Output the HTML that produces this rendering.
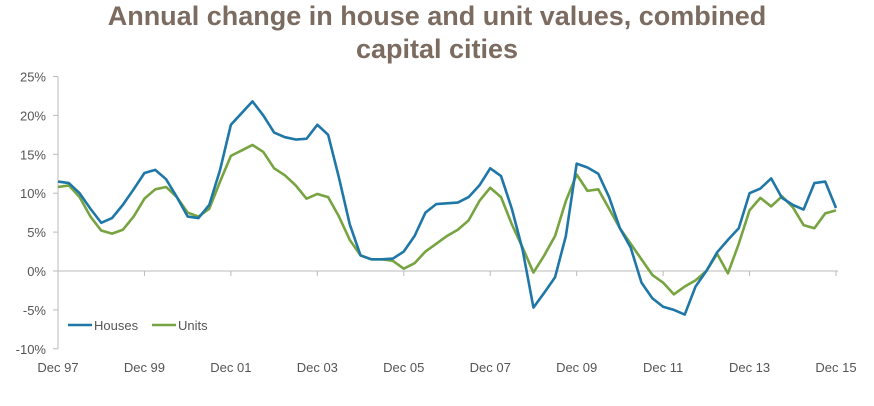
<!DOCTYPE html>
<html><head><meta charset="utf-8"><style>
body{margin:0;background:#fff;width:874px;height:406px;overflow:hidden;font-family:"Liberation Sans",sans-serif}
#title{position:absolute;left:0;width:874px;top:0;text-align:center;font-weight:bold;font-size:27px;line-height:33px;color:#7b6b60}
</style></head><body>
<div id="title">Annual change in house and unit values, combined<br>capital cities</div>
<svg id="c" width="874" height="406" style="position:absolute;left:0;top:0"></svg>
<script>
const xLabels=["Dec 97","Dec 99","Dec 01","Dec 03","Dec 05","Dec 07","Dec 09","Dec 11","Dec 13","Dec 15"];
const yTicks=[25,20,15,10,5,0,-5,-10];
const houses=[11.5,11.3,10,8, 6.2,6.8,8.5,10.5, 12.6,13.0,11.8,9.5, 7,6.8,8.5,13, 18.8,20.3,21.8,20, 17.8,17.2,16.9,17.0, 18.8,17.5,12,6, 2,1.5,1.5,1.6, 2.5,4.5,7.5,8.6, 8.7,8.8,9.5,11, 13.2,12.2,8,2.7, -4.7,-2.8,-0.8,4.5, 13.8,13.3,12.5,9.5, 5.5,3,-1.5,-3.5, -4.6,-5.0,-5.6,-2, 0,2.4,4,5.5, 10,10.6,11.9,9.4, 8.5,7.9,11.3,11.5, 8.1];
const units=[10.8,11,9.5,7, 5.2,4.8,5.3,7, 9.3,10.5,10.8,9.5, 7.5,7,8,11.5, 14.8,15.5,16.2,15.3, 13.2,12.3,11,9.3, 9.9,9.5,7,4, 2,1.5,1.5,1.3, 0.3,1,2.5,3.5, 4.5,5.3,6.5,9, 10.7,9.5,6,3, -0.2,2,4.5,9, 12.4,10.3,10.5,8, 5.5,3.5,1.5,-0.5, -1.5,-3.0,-2,-1.2, 0,2.2,-0.3,3.5, 7.8,9.4,8.3,9.6, 8.2,5.9,5.5,7.4, 7.8];
const svg=document.getElementById('c');const NS='http://www.w3.org/2000/svg';
const X=q=>58+q*(778/72), Y=v=>271-v*7.78;
function mk(t,a,p){const e=document.createElementNS(NS,t);for(const k in a)e.setAttribute(k,a[k]);(p||svg).appendChild(e);return e;}
let ax=mk('line',{x1:58,y1:Y(25),x2:58,y2:Y(-10),stroke:'#bbb'});


yTicks.forEach(v=>{mk('line',{x1:53,x2:58,y1:Y(v),y2:Y(v),stroke:'#bbb'});
 const t=mk('text',{x:46,y:Y(v)+5,'text-anchor':'end','font-size':13,fill:'#555'});t.textContent=v+'%';
 
 });
let xa=mk('line',{x1:58,x2:838,y1:Y(0),y2:Y(0),stroke:'#bbb'});


xLabels.forEach((l,i)=>{const x=X(i*8);mk('line',{x1:x,x2:x,y1:Y(0),y2:Y(0)+5,stroke:'#bbb'});
 const t=mk('text',{x:x,y:372,'text-anchor':'middle','font-size':13,fill:'#555'});t.textContent=l;
 
 });
function line(d,c,n){const p=mk('polyline',{points:d.map((v,i)=>X(i)+','+Y(v)).join(' '),fill:'none',stroke:c,'stroke-width':2.6,'stroke-linejoin':'round'});
 
 }
line(units,'#77a441','units-line');line(houses,'#1f77a8','houses-line');
const lg=mk('g',{});


mk('line',{x1:68,x2:92,y1:325,y2:325,stroke:'#1f77a8','stroke-width':2.6},lg);
let t1=mk('text',{x:94,y:330,'font-size':13,fill:'#555'},lg);t1.textContent='Houses';
mk('line',{x1:152,x2:176,y1:325,y2:325,stroke:'#77a441','stroke-width':2.6},lg);
let t2=mk('text',{x:178,y:330,'font-size':13,fill:'#555'},lg);t2.textContent='Units';
</script>
</body></html>
